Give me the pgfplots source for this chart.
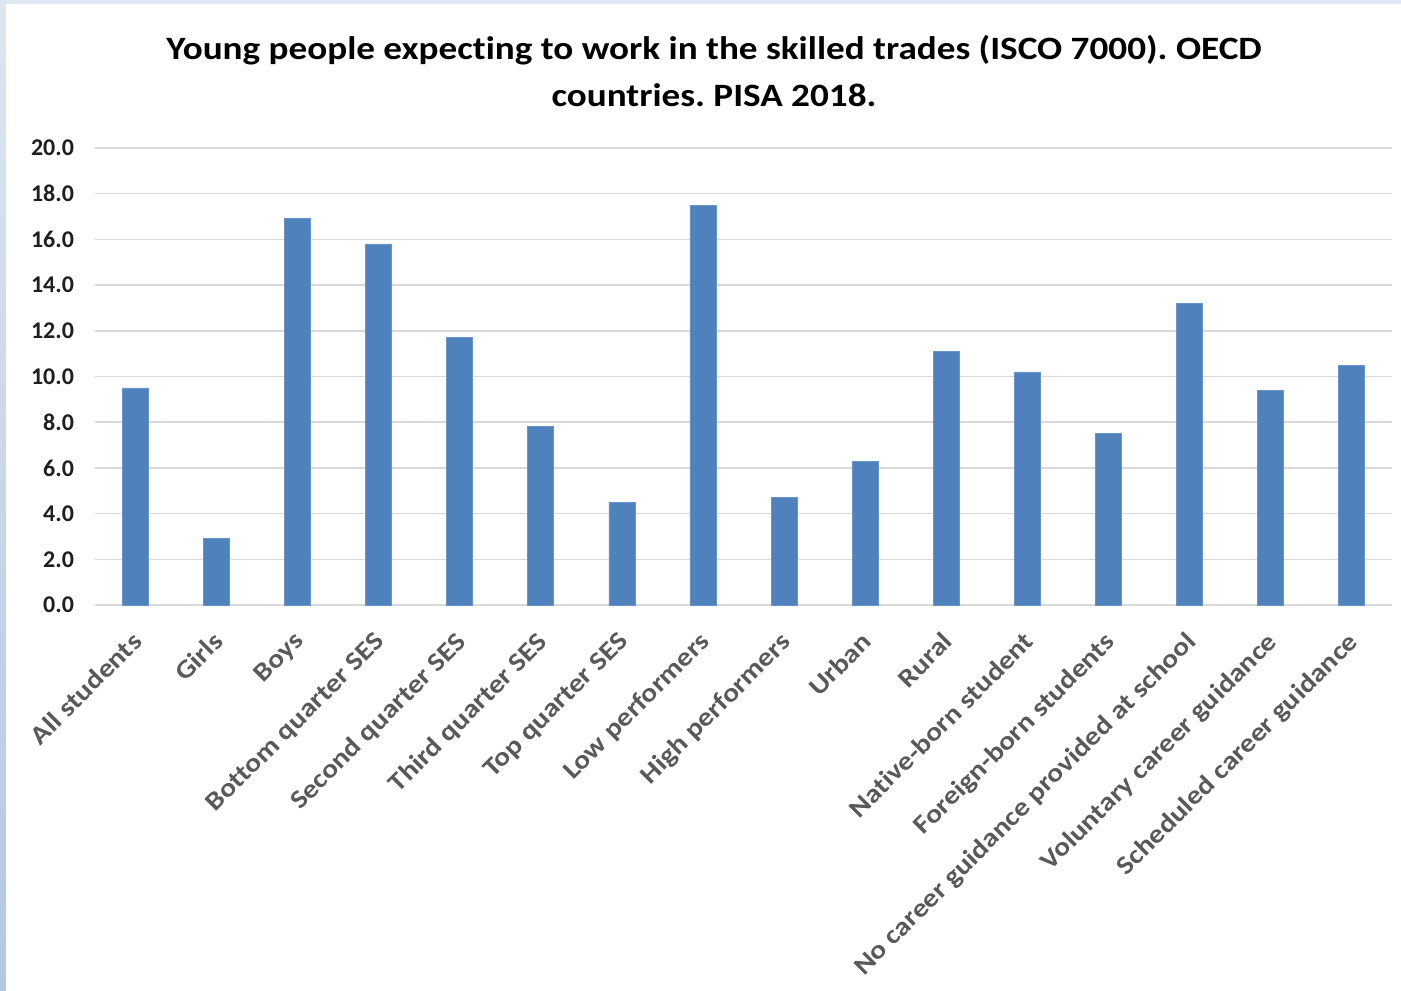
\documentclass[border=0pt]{standalone}
\usepackage{pgfplots}
\pgfplotsset{compat=1.18}
\usepackage{fontspec}
\setmainfont{Carlito}[FakeStretch=1.14, Ligatures=NoCommon]
\newfontfamily\tickfont{Carlito}
\frenchspacing
\definecolor{barblue}{HTML}{4F81BD}
\definecolor{gridgray}{HTML}{D9D9D9}
\definecolor{labgray}{HTML}{595959}
\definecolor{ticktext}{HTML}{1F1F1F}
\definecolor{frametop}{HTML}{DDE6F1}
\definecolor{framebot}{HTML}{B4C8E2}
\begin{document}
\begin{tikzpicture}
% page frame: 1401x990 px at 0.5pt/px, plot area origin at (95px,605px)
\fill[white] (-47.5pt,-192.5pt) rectangle (653pt,302.5pt);
\fill[frametop] (-47.5pt,300.5pt) rectangle (653pt,302.5pt);
\shade[top color=frametop, bottom color=framebot] (-47.5pt,-192.5pt) rectangle (-44.5pt,302.5pt);
\begin{axis}[
  at={(0,0)}, anchor=south west,
  scale only axis,
  width=648.5pt, height=228.5pt,
  xmin=-0.5, xmax=15.5,
  ymin=0, ymax=20,
  ytick={0,2,...,20},
  xtick=data,
  xticklabels={All students,Girls,Boys,Bottom quarter SES,Second quarter SES,Third quarter SES,Top quarter SES,Low performers,High performers,Urban,Rural,Native-born student,Foreign-born students,No career guidance provided at school,Voluntary career guidance,Scheduled career guidance},
  axis line style={draw=none},
  axis x line*=bottom,
  axis y line*=left,
  x axis line style={draw=gridgray, line width=0.75pt},
  y axis line style={draw=none},
  major tick length=0pt,
  ymajorgrids,
  grid style={gridgray, line width=0.75pt},
  yticklabel style={font=\tickfont\fontsize{12}{14}\selectfont\bfseries, text=ticktext, anchor=east, xshift=-7pt},
  /pgf/number format/.cd, fixed, fixed zerofill, precision=1, assume math mode=true,
  /pgfplots/.cd,
  xticklabel style={font=\fontsize{13}{15}\selectfont\bfseries, text=labgray, inner sep=0pt, xshift=-2.5pt, yshift=-12.5pt, rotate=45, anchor=north east},
  clip=false,
]
\addplot[ybar, bar width=13pt, fill=barblue, draw=barblue!85!white, line width=0.4pt] coordinates {
(0,9.5) (1,2.9) (2,16.9) (3,15.8) (4,11.7) (5,7.8) (6,4.5) (7,17.5)
(8,4.7) (9,6.3) (10,11.1) (11,10.2) (12,7.5) (13,13.2) (14,9.4) (15,10.5)
};
\end{axis}
\node[font=\fontsize{16.3}{23.5}\selectfont\bfseries, align=center, text=black] at (309.5pt,267pt) {Young people expecting to work in the skilled trades (ISCO 7000). OECD\\countries. PISA 2018.};
\end{tikzpicture}
\end{document}
